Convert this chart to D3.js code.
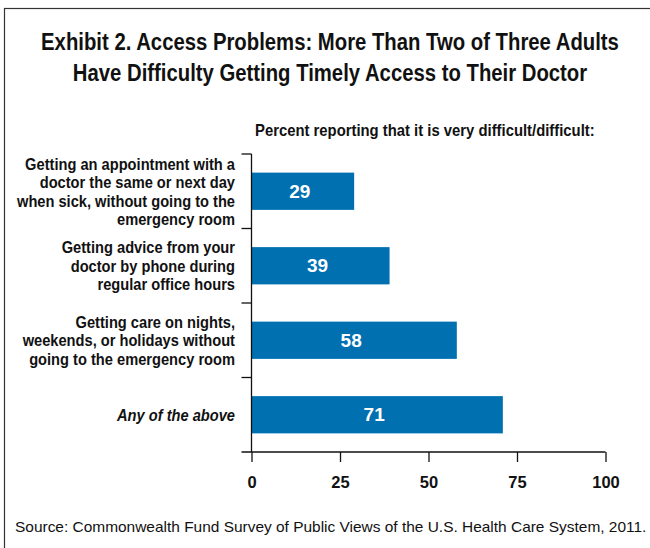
<!DOCTYPE html>
<html>
<head>
<meta charset="utf-8">
<script src="https://cdn.jsdelivr.net/npm/d3@7"></script>
<style>
  html, body { margin: 0; padding: 0; background: #fff; }
  svg { display: block; }
</style>
</head>
<body>
<svg id="chart" width="650" height="548"></svg>
<script>
const categories = [
  ["Getting an appointment with a", "doctor the same or next day", "when sick, without going to the", "emergency room"],
  ["Getting advice from your", "doctor by phone during", "regular office hours"],
  ["Getting care on nights,", "weekends, or holidays without", "going to the emergency room"],
  ["Any of the above"]
];
const italicFlags = [false, false, false, true];
const values = [29, 39, 58, 71];
const xTicks = [0, 25, 50, 75, 100];
const titleLines = [
  "Exhibit 2. Access Problems: More Than Two of Three Adults",
  "Have Difficulty Getting Timely Access to Their Doctor"
];
const subtitle = "Percent reporting that it is very difficult/difficult:";
const source = "Source: Commonwealth Fund Survey of Public Views of the U.S. Health Care System, 2011.";

const svg = d3.select("#chart");
const font = "'Liberation Sans', Arial, sans-serif";
const barColor = "#0070B0";
const ink = "#111";

// place a text at (px, py) horizontally condensed by factor f via transform
function placeCondensed(sel, f) {
  sel.each(function() {
    const t = d3.select(this);
    const px = +t.attr("x"), py = +t.attr("y");
    t.attr("x", 0).attr("y", 0)
     .attr("transform", `translate(${px},${py}) scale(${f},1)`);
  });
}

// frame
svg.append("rect")
  .attr("x", 4.5).attr("y", 8.5)
  .attr("width", 700).attr("height", 600)
  .attr("fill", "none").attr("stroke", "#333").attr("stroke-width", 1.2);

// title
const title = svg.append("g").selectAll("text").data(titleLines).join("text")
  .attr("x", 330).attr("y", (d, i) => 50 + i * 31)
  .attr("text-anchor", "middle")
  .attr("font-family", font)
  .attr("font-weight", "bold")
  .attr("font-size", 23)
  .attr("fill", ink)
  .text(d => d);
placeCondensed(title, 578 / title.nodes()[0].getComputedTextLength());

const sub = svg.append("text")
  .attr("x", 255).attr("y", 136)
  .attr("font-family", font)
  .attr("font-weight", "bold")
  .attr("font-size", 16)
  .attr("fill", ink)
  .text(subtitle);
placeCondensed(sub, 340 / sub.node().getComputedTextLength());

const x = d3.scaleLinear().domain([0, 100]).range([251.5, 605.5]);
const y = d3.scaleBand().domain(d3.range(values.length)).range([154, 452]).paddingInner(0.5).paddingOuter(0.25);

// bars
svg.append("g").selectAll("rect").data(values).join("rect")
  .attr("x", x(0))
  .attr("y", (d, i) => y(i))
  .attr("width", d => x(d) - x(0))
  .attr("height", y.bandwidth())
  .attr("fill", barColor);

svg.append("g").selectAll("text").data(values).join("text")
  .attr("x", d => (x(0) + x(d)) / 2 - 3)
  .attr("y", (d, i) => y(i) + y.bandwidth() / 2 + 6.5)
  .attr("text-anchor", "middle")
  .attr("font-family", font)
  .attr("font-weight", "bold")
  .attr("font-size", 19)
  .attr("fill", "#fff")
  .text(d => d);

// y axis with boundary ticks
const yAxisG = svg.append("g");
yAxisG.append("line")
  .attr("x1", x(0)).attr("x2", x(0))
  .attr("y1", 154).attr("y2", 452)
  .attr("stroke", ink).attr("stroke-width", 1.3);
yAxisG.selectAll("line.tk").data(d3.range(values.length)).join("line")
  .attr("class", "tk")
  .attr("x1", x(0) - 10).attr("x2", x(0))
  .attr("y1", i => 154 + i * y.step())
  .attr("y2", i => 154 + i * y.step())
  .attr("stroke", ink).attr("stroke-width", 1.3);

// category labels
const lineH = 18.5;
const catTexts = [];
categories.forEach((lines, i) => {
  const cy = y(i) + y.bandwidth() / 2;
  const n = lines.length;
  const t = svg.append("g").selectAll("text").data(lines).join("text")
    .attr("x", 235)
    .attr("y", (d, j) => cy + (j - (n - 1) / 2) * lineH + 6)
    .attr("text-anchor", "end")
    .attr("font-family", font)
    .attr("font-weight", "bold")
    .attr("font-style", italicFlags[i] ? "italic" : "normal")
    .attr("font-size", 16.5)
    .attr("fill", ink)
    .text(d => d);
  catTexts.push(t);
});
{
  const f = 210 / catTexts[0].nodes()[0].getComputedTextLength();
  catTexts.forEach(t => placeCondensed(t, f));
}

// x axis
const xAxis = d3.axisBottom(x).tickValues(xTicks).tickSize(10).tickPadding(14).tickSizeOuter(0);
const xg = svg.append("g").attr("transform", "translate(0,452)").call(xAxis);
xg.select(".domain").remove();
xg.append("line").attr("x1", x(0) - 10).attr("x2", x(100)).attr("y1", 0).attr("y2", 0)
  .attr("stroke", ink).attr("stroke-width", 1.3);
xg.selectAll(".tick line").attr("stroke", ink).attr("stroke-width", 1.3);
xg.selectAll(".tick text")
  .attr("font-family", font)
  .attr("font-weight", "bold")
  .attr("font-size", 16.5)
  .attr("fill", ink);

// source
const src = svg.append("text")
  .attr("x", 15).attr("y", 532)
  .attr("font-family", font)
  .attr("font-size", 14)
  .attr("fill", ink)
  .text(source);
placeCondensed(src, 632 / src.node().getComputedTextLength());
</script>
</body>
</html>
